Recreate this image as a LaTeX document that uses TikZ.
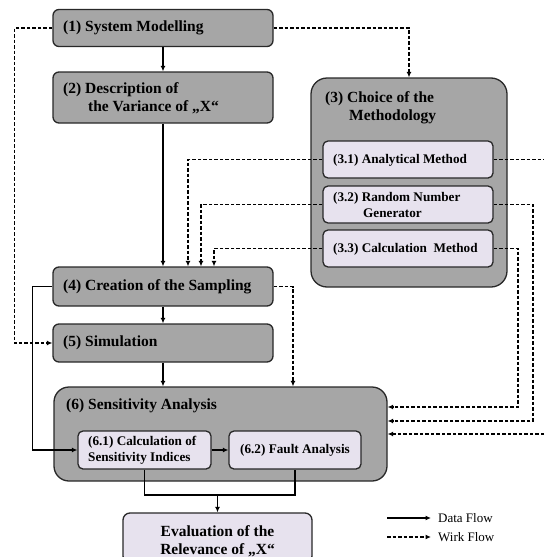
\documentclass[tikz,border=0pt]{standalone}
\usepackage{fontspec}
\setmainfont{Liberation Serif}
\usetikzlibrary{arrows.meta}
\definecolor{boxgray}{RGB}{166,166,166}
\definecolor{subfill}{RGB}{231,226,238}
\definecolor{edgecol}{RGB}{40,40,40}
\begin{document}
\begin{tikzpicture}[x=1pt,y=-1pt,
  bigbox/.style={draw=edgecol, line width=1.3pt, fill=boxgray, rounded corners=6pt, inner sep=0pt},
  subbox/.style={draw=edgecol, line width=1.3pt, fill=subfill, rounded corners=5pt, inner sep=0pt},
  maintext/.style={font=\fontsize{15.5}{18}\selectfont\bfseries, inner sep=0pt, align=left, anchor=west},
  subtext/.style={font=\fontsize{13.2}{16}\selectfont\bfseries, inner sep=0pt, align=left, anchor=west},
  legtext/.style={font=\fontsize{13}{16}\selectfont, inner sep=0pt, anchor=west},
  cline/.style={line width=1.1pt, draw=black},
  dline/.style={cline, dash pattern=on 3.5pt off 2pt},
  arr/.style={-{Latex[length=5.5pt,width=5pt]}}]
\useasboundingbox (0,0) rectangle (544,557);

% main boxes
\node[bigbox, minimum width=220pt, minimum height=37pt] (n1) at (163,28) {};
\node[bigbox, minimum width=220pt, minimum height=51pt] (n2) at (163,97.5) {};
\node[bigbox, rounded corners=16pt, minimum width=196pt, minimum height=209pt] (n3) at (409,182.5) {};
\node[subbox, minimum width=170pt, minimum height=37pt] (n31) at (408,159.5) {};
\node[subbox, minimum width=170pt, minimum height=37pt] (n32) at (408,204.5) {};
\node[subbox, minimum width=170pt, minimum height=37pt] (n33) at (408,248.5) {};
\node[bigbox, minimum width=220pt, minimum height=39pt] (n4) at (163,286.5) {};
\node[bigbox, minimum width=220pt, minimum height=38pt] (n5) at (163,343) {};
\node[bigbox, rounded corners=15pt, minimum width=333pt, minimum height=94pt] (n6) at (220.5,434) {};
\node[subbox, minimum width=133pt, minimum height=38pt] (n61) at (144.5,450) {};
\node[subbox, minimum width=132pt, minimum height=38pt] (n62) at (295,450) {};
\node[subbox, rounded corners=7pt, minimum width=189pt, minimum height=50pt] (ev) at (217.5,538) {};

% texts
\node[maintext] (t1) at (63,28) {(1) System Modelling};
\node[maintext] (t2) at (63,98) {(2) Description of\\\hspace*{25pt}the Variance of „X“};
\node[maintext] (t3) at (325,108) {(3) Choice of the\\\hspace*{24pt}Methodology};
\node[subtext] (t31) at (333,160) {(3.1) Analytical Method};
\node[subtext] (t32) at (333,205) {(3.2) Random Number\\\hspace*{30pt}Generator};
\node[subtext] (t33) at (333,249) {(3.3) Calculation\ \ Method};
\node[maintext] (t4) at (63,286.5) {(4) Creation of the Sampling};
\node[maintext] (t5) at (63,343) {(5) Simulation};
\node[maintext] (t6) at (66,406) {(6) Sensitivity Analysis};
\node[subtext] (t61) at (88,450) {(6.1) Calculation of\\Sensitivity Indices};
\node[subtext] (t62) at (240,450) {(6.2) Fault Analysis};
\node[maintext, anchor=center, align=center] (tev) at (217.5,541) {Evaluation of the\\Relevance of „X“};

% data flow
\draw[cline,arr] (n1.south) -- (n2.north);
\draw[cline,arr] (n2.south) -- (n4.north);
\draw[cline,arr] (n4.south) -- (n5.north);
\draw[cline,arr] (n5.south) -- (n5.south |- n6.north);
\draw[cline,arr] (n4.west) -- ++(-20,0) |- (n61.west);
\draw[cline,arr] (n61.east) -- (n62.west);
\coordinate (j) at (217.5,495);
\draw[cline] (n61.south) |- (n62.south |- j) -- (n62.south);
\draw[cline,arr] (j) -- (ev.north);

% work flow
\draw[dline,arr] (n1.east) -| (n3.north);
\draw[dline,arr] (n1.west) -- ++(-38,0) |- (n5.west);
\draw[dline,arr] (n31.west) -| ([xshift=25pt]n4.north);
\draw[dline,arr] (n32.west) -| ([xshift=38pt]n4.north);
\draw[dline,arr] (n33.west) -| ([xshift=51pt]n4.north);
\draw[dline,arr] (n4.east) -| ([xshift=72.5pt]n6.north);
\coordinate (r1) at (544,159.5);
\draw[dline] (n31.east) -- (r1);
\coordinate (r2) at (533,421);
\draw[dline,arr] (n32.east) -| (r2) -- (r2 -| n6.east);
\coordinate (r3) at (518,407);
\draw[dline,arr] (n33.east) -| (r3) -- (r3 -| n6.east);
\coordinate (r4) at (544,434);
\draw[dline,arr] (r4) -- (r4 -| n6.east);

% legend
\node[legtext] (lg1) at (438,518) {Data Flow};
\node[legtext] (lg2) at (438,537) {Wirk Flow};
\coordinate (la) at (387,518);
\coordinate (lb) at (387,537);
\draw[cline,arr] (la) -- ([xshift=-7pt]lg1.west);
\draw[dline,arr] (lb) -- ([xshift=-7pt]lg2.west);
\end{tikzpicture}
\end{document}
